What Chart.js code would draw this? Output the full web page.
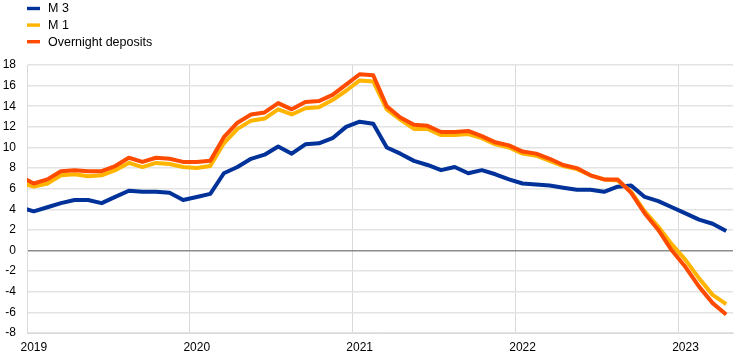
<!DOCTYPE html>
<html>
<head>
<meta charset="utf-8">
<script src="https://cdn.jsdelivr.net/npm/chart.js@4/dist/chart.umd.min.js"></script>
<style>
  body { margin: 0; background: #fff; }
  canvas { display: block; }
</style>
</head>
<body>
<canvas id="moneyChart" width="742" height="359"></canvas>
<script>
// monthly annual growth rates, Dec 2018 (clipped at the left edge) to Apr 2023
const firstMonth = '2018-12';
const yearLabels = ['2019', '2020', '2021', '2022', '2023'];

const m3 = [4.2,
    3.8, 4.2, 4.6, 4.9, 4.9, 4.6, 5.2, 5.8, 5.7, 5.7, 5.6, 4.9,
    5.2, 5.5, 7.5, 8.1, 8.9, 9.3, 10.1, 9.4, 10.3, 10.4, 10.9, 12.0,
    12.5, 12.3, 10.0, 9.4, 8.7, 8.3, 7.8, 8.1, 7.5, 7.8, 7.4, 6.9,
    6.5, 6.4, 6.3, 6.1, 5.9, 5.9, 5.7, 6.2, 6.3, 5.2, 4.8, 4.2,
    3.6, 3.0, 2.6, 1.9];

const m1 = [6.6,
    6.2, 6.5, 7.3, 7.4, 7.2, 7.3, 7.8, 8.5, 8.1, 8.5, 8.4, 8.1,
    8.0, 8.2, 10.4, 11.8, 12.6, 12.8, 13.7, 13.2, 13.8, 13.9, 14.6, 15.5,
    16.5, 16.4, 13.7, 12.7, 11.8, 11.8, 11.2, 11.2, 11.3, 10.9, 10.3, 10.0,
    9.4, 9.2, 8.7, 8.2, 7.9, 7.3, 6.9, 6.8, 5.7, 3.8, 2.3, 0.6,
    -0.9, -2.7, -4.3, -5.2];

const overnight = [7.2,
    6.5, 6.9, 7.7, 7.8, 7.7, 7.7, 8.2, 9.0, 8.6, 9.0, 8.9, 8.6,
    8.6, 8.7, 11.0, 12.4, 13.2, 13.4, 14.3, 13.7, 14.4, 14.5, 15.1, 16.1,
    17.1, 17.0, 14.0, 12.9, 12.2, 12.1, 11.5, 11.5, 11.6, 11.1, 10.5, 10.2,
    9.6, 9.4, 8.9, 8.3, 8.0, 7.3, 6.9, 6.9, 5.6, 3.6, 2.0, 0.0,
    -1.6, -3.5, -5.1, -6.2];

const FONT = '"Liberation Sans", Arial, sans-serif';

// x = months since Jan 2019 (Dec 2018 sits at -1, outside the plot)
function toPoints(values) {
    return values.map((v, i) => ({ x: i - 1, y: v }));
}

// legend stacked in one column at top-left, like the original
const stackedLegend = {
    id: 'stackedLegend',
    afterDraw(chart) {
        const ctx = chart.ctx;
        const items = chart.data.datasets.slice().sort((a, b) => a.legendIndex - b.legendIndex);
        ctx.save();
        ctx.font = '12.5px ' + FONT;
        ctx.textBaseline = 'middle';
        items.forEach((ds, i) => {
            const y = 8.5 + i * 16.6;
            ctx.fillStyle = ds.borderColor;
            ctx.fillRect(27, y - 1.7, 13, 3.4);
            ctx.fillStyle = '#000';
            ctx.fillText(ds.label, 48, y + 0.5);
        });
        ctx.restore();
    }
};

const ctx = document.getElementById('moneyChart').getContext('2d');
new Chart(ctx, {
    type: 'line',
    data: {
        datasets: [
            { label: 'M 3', data: toPoints(m3), borderColor: '#003299', order: 2, legendIndex: 0 },
            { label: 'M 1', data: toPoints(m1), borderColor: '#ffb400', order: 1, legendIndex: 1 },
            { label: 'Overnight deposits', data: toPoints(overnight), borderColor: '#ff4b00', order: 0, legendIndex: 2 }
        ]
    },
    options: {
        responsive: false,
        animation: false,
        layout: { padding: { left: 0, top: 65, right: 9, bottom: 4 } },
        elements: {
            line: { borderWidth: 4, tension: 0, borderCapStyle: 'butt', borderJoinStyle: 'round' },
            point: { radius: 0 }
        },
        datasets: { line: { clip: 0 } },
        scales: {
            x: {
                type: 'linear',
                min: -0.5,
                max: 51.5,
                afterBuildTicks: scale => {
                    scale.ticks = yearLabels.map((_, i) => ({ value: i * 12 - 0.5 }));
                },
                afterFit: scale => { scale.height = 22; },
                ticks: {
                    autoSkip: false,
                    maxRotation: 0,
                    padding: 7,
                    labelOffset: 6.8,
                    color: '#000',
                    font: { family: FONT, size: 12 },
                    callback: (value, index) => yearLabels[index]
                },
                grid: { color: '#d9d9d9', lineWidth: 1, drawTicks: false },
                border: { color: '#d9d9d9' }
            },
            y: {
                min: -8,
                max: 18,
                afterFit: scale => { scale.width = 27; },
                ticks: {
                    stepSize: 2,
                    padding: 11,
                    color: '#000',
                    font: { family: FONT, size: 12 }
                },
                grid: {
                    color: c => c.tick.value === 0 ? '#8c8c8c' : '#e3e3e3',
                    lineWidth: 1.5,
                    drawTicks: false
                },
                border: { color: '#d9d9d9' }
            }
        },
        plugins: {
            legend: { display: false },
            tooltip: { enabled: false }
        }
    },
    plugins: [stackedLegend]
});
</script>
</body>
</html>
